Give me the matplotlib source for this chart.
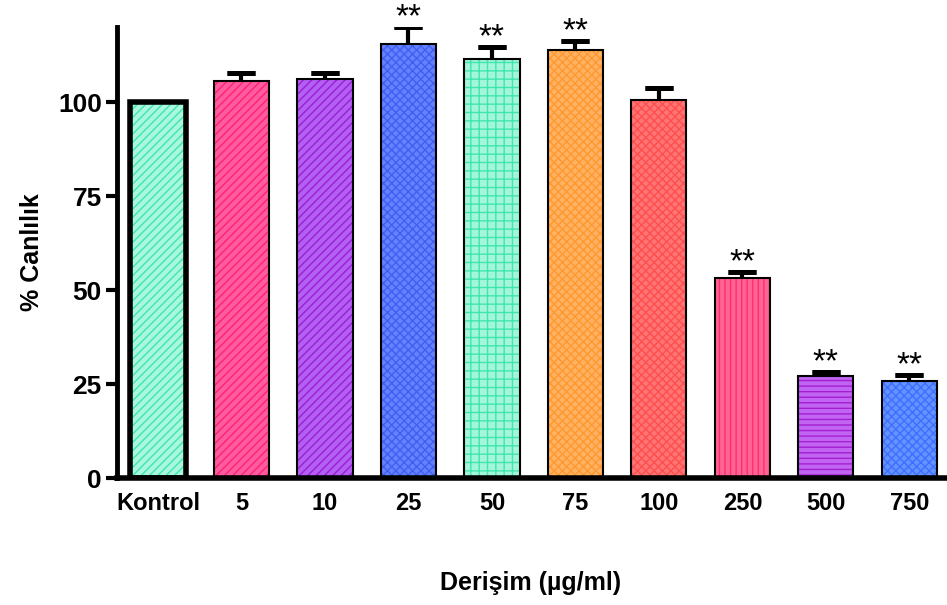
import matplotlib
matplotlib.use("Agg")
import matplotlib.pyplot as plt
import numpy as np

categories = ["Kontrol", "5", "10", "25", "50", "75", "100", "250", "500", "750"]
values = [100.0, 105.7, 106.2, 115.5, 111.5, 113.9, 100.6, 53.3, 27.2, 25.8]
errors = [0.0, 2.0, 1.5, 4.4, 3.3, 2.3, 3.1, 1.6, 0.9, 1.7]
significant = [False, False, False, True, True, True, False, True, True, True]
yticks = [0, 25, 50, 75, 100]

face_colors = ["#a8f7de", "#ff5c9c", "#b35ff2", "#6482ff", "#a4f6da",
               "#ffb264", "#ff7474", "#ff6494", "#c264f2", "#6492ff"]
hatch_colors = ["#3fe6ae", "#ff1f7f", "#9a1fd8", "#3f5ff0", "#3fe6ae",
                "#ff982e", "#ff4e4e", "#ff2f6f", "#a21fd2", "#3f6fff"]
hatches = ["////", "////", "////", "xxxx", "++", "xxxx", "xxxx", "|||", "---", "xxxx"]

plt.rcParams['font.family'] = ['Liberation Sans', 'DejaVu Sans']
plt.rcParams['hatch.linewidth'] = 1.0

fig = plt.figure(figsize=(9.47, 6.05), dpi=100)
ax = fig.add_axes([0.1236, 0.2099, 0.8764, 0.7455])

x = np.arange(len(categories))
width = 0.66

# hatched fill
for i in range(len(categories)):
    ax.bar(x[i], values[i], width=width, color=face_colors[i],
           edgecolor=hatch_colors[i], hatch=hatches[i], linewidth=0, zorder=2)
# outlines
for i in range(len(categories)):
    lw = 4 if i == 0 else 1.5
    ax.bar(x[i], values[i], width=width, fill=False, edgecolor="black",
           linewidth=lw, zorder=3)

# error bars (upper only)
vals = np.array(values)
ev = np.array(errors)
mask = ev > 0
ax.vlines(x[mask], vals[mask], vals[mask] + ev[mask], color="black",
          linewidth=3, zorder=4)
ax.errorbar(x[mask], vals[mask] + ev[mask], yerr=np.zeros(mask.sum()),
            fmt="none", ecolor="black", elinewidth=0, capsize=10,
            capthick=3.5, zorder=4)

for i in range(len(categories)):
    if significant[i]:
        ax.text(x[i], values[i] + errors[i] + 0.2, "**", ha="center",
                va="baseline", fontsize=24, color="black", clip_on=False)

ax.set_xlim(-0.49, 9.45)
ax.set_ylim(0, 120)
ax.set_yticks(yticks)
ax.set_yticklabels([str(t) for t in yticks], fontsize=19, fontweight="bold")
ax.set_xticks(x)
ax.set_xticklabels(categories, fontsize=17, fontweight="bold")
ax.tick_params(axis="y", direction="out", length=8, width=3, pad=3)
ax.tick_params(axis="x", length=0, pad=10)

for s in ["top", "right"]:
    ax.spines[s].set_visible(False)
ax.spines["left"].set_linewidth(3.5)
ax.spines["bottom"].set_linewidth(4)

ax.set_ylabel("% Canlılık", fontsize=18, fontweight="bold", labelpad=10)
fig.text(0.56, 0.016, "Derişim (µg/ml)", ha="center", va="bottom",
         fontsize=18, fontweight="bold")

fig.savefig("out.png", dpi=100)
